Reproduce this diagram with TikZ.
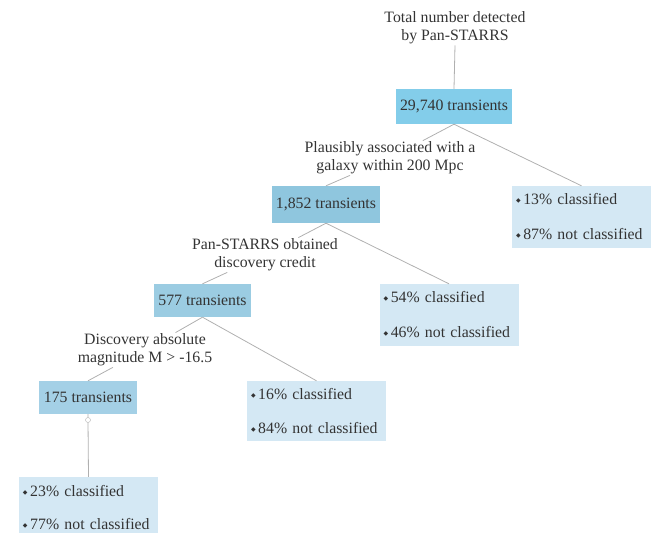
\documentclass[tikz,border=0pt]{standalone}
\usepackage{fontspec}
\setmainfont{Liberation Serif}
\newfontfamily\symfont{DejaVu Sans}
\usepackage{tikz}
\usetikzlibrary{positioning}
\definecolor{boxA}{HTML}{83CDEA}
\definecolor{boxB}{HTML}{8FC6DE}
\definecolor{boxC}{HTML}{9BCCE2}
\definecolor{boxD}{HTML}{A4D0E6}
\definecolor{listbg}{HTML}{D4E8F4}
\definecolor{txt}{HTML}{333333}
\definecolor{edge}{HTML}{B0B0B0}
\newcommand{\bul}{{\symfont\fontsize{6}{6}\selectfont\raisebox{2pt}{◆}}\,}

\begin{document}
\begin{tikzpicture}[x=1pt, y=-1pt,
  every node/.style={text=txt, font=\fontsize{15.8}{18}\selectfont},
  count/.style={minimum height=33pt, inner sep=0pt},
  share/.style={fill=listbg, text width=131pt, inner xsep=4pt, inner ysep=0pt,
    minimum height=62pt, align=left},
  cond/.style={align=center, inner sep=1pt},
  link/.style={draw=edge, line width=0.8pt}]
\useasboundingbox (0,0) rectangle (651,533);
\clip (0,0) rectangle (651,533);
\node[cond] (total) at (455,28) {Total number detected\\by Pan-STARRS};
\node[count, fill=boxA, minimum width=116pt, minimum height=35pt] (n29740) at (454,106.5) {29,740 transients};
\node[cond] (galaxy) at (390,158) {Plausibly associated with a\\galaxy within 200 Mpc};
\node[count, fill=boxB, minimum width=108pt, minimum height=37pt] (n1852) at (326,204.5) {1,852 transients};
\node[share] (r13) at (581.5,217) {\bul 13\% classified\\[17pt]\bul 87\% not classified};
\node[cond] (credit) at (265,255) {Pan-STARRS obtained\\discovery credit};
\node[count, fill=boxC, minimum width=97pt] (n577) at (202.5,300.5) {577 transients};
\node[share] (r54) at (449,315) {\bul 54\% classified\\[17pt]\bul 46\% not classified};
\node[cond] (faint) at (145,350) {Discovery absolute\\magnitude M > -16.5};
\node[count, fill=boxD, minimum width=98pt] (n175) at (88,397.5) {175 transients};
\node[share, minimum height=60pt] (r16) at (316.5,411) {\bul 16\% classified\\[16pt]\bul 84\% not classified};
\node[circle, draw=edge, fill=white, minimum size=5pt, inner sep=0pt] (knot) at (88,420) {};
\node[share] (r23) at (88.5,508) {\bul 23\% classified\\[15pt]\bul 77\% not classified};

\draw[link] (total.south) -- (n29740.north);
\draw[link] (n29740.south) -- (galaxy) -- (n1852.north);
\draw[link] (n29740.south) -- (r13.north);
\draw[link] (n1852.south) -- (credit) -- (n577.north);
\draw[link] (n1852.south) -- (r54.north);
\draw[link] (n577.south) -- (faint) -- (n175.north);
\draw[link] (n577.south) -- (r16.north);
\draw[link] (n175.south) -- (knot) -- (r23.north);
\end{tikzpicture}
\end{document}
